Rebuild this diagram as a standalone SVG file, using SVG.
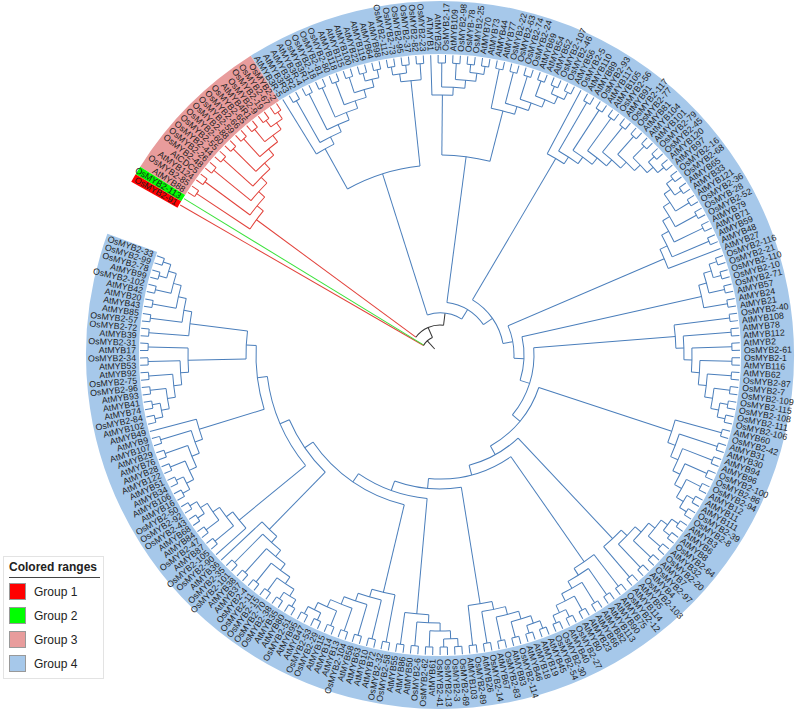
<svg xmlns="http://www.w3.org/2000/svg" width="798" height="714" viewBox="0 0 798 714">
<style>
text{font-family:"Liberation Sans",Arial,sans-serif;}
.lb text{font-size:8.8px;fill:#1e1e1e;dominant-baseline:central;}
.L text{text-anchor:end;}
.lg text{font-size:12px;fill:#222;}
</style>
<defs>
<g id="c"><path d="M292 0H300"/><path d="M292 0H300" transform="rotate(1.42)"/><circle r="292" pathLength="360" stroke-dasharray="1.42 999"/></g>
<g id="L2"><use href="#c"/><use href="#c" transform="rotate(2.84)"/><circle r="284" pathLength="360" stroke-dasharray="2.84 999" transform="rotate(0.71)"/><path d="M284 0H292" transform="rotate(0.71)"/><path d="M284 0H292" transform="rotate(3.55)"/></g>
<g id="L3"><use href="#L2"/><use href="#c" transform="rotate(5.68)"/><circle r="276" pathLength="360" stroke-dasharray="4.26 999" transform="rotate(2.13)"/><path d="M276 0H284" transform="rotate(2.13)"/><path d="M276 0H292" transform="rotate(6.39)"/></g>
<g id="L4"><use href="#L3"/><use href="#c" transform="rotate(8.52)"/><circle r="268" pathLength="360" stroke-dasharray="4.97 999" transform="rotate(4.26)"/><path d="M268 0H276" transform="rotate(4.26)"/><path d="M268 0H292" transform="rotate(9.23)"/></g>
<g id="L5"><use href="#L4"/><use href="#c" transform="rotate(11.36)"/><circle r="260" pathLength="360" stroke-dasharray="5.325 999" transform="rotate(6.745)"/><path d="M260 0H268" transform="rotate(6.745)"/><path d="M260 0H292" transform="rotate(12.07)"/></g>
<g id="L6"><use href="#L5"/><use href="#c" transform="rotate(14.2)"/><circle r="252" pathLength="360" stroke-dasharray="5.5025 999" transform="rotate(9.4075)"/><path d="M252 0H260" transform="rotate(9.4075)"/><path d="M252 0H292" transform="rotate(14.91)"/></g>
<g id="L7"><use href="#L6"/><use href="#c" transform="rotate(17.04)"/><circle r="244" pathLength="360" stroke-dasharray="5.59125 999" transform="rotate(12.15875)"/><path d="M244 0H252" transform="rotate(12.15875)"/><path d="M244 0H292" transform="rotate(17.75)"/></g>
<g id="L8"><use href="#L7"/><use href="#c" transform="rotate(19.88)"/><circle r="236" pathLength="360" stroke-dasharray="5.636 999" transform="rotate(14.954)"/><path d="M236 0H244" transform="rotate(14.954)"/><path d="M236 0H292" transform="rotate(20.59)"/></g>
<g id="L9"><use href="#L8"/><use href="#c" transform="rotate(22.72)"/><circle r="228" pathLength="360" stroke-dasharray="5.658 999" transform="rotate(17.772)"/><path d="M228 0H236" transform="rotate(17.772)"/><path d="M228 0H292" transform="rotate(23.43)"/></g>
<g id="S4"><use href="#L4"/><path d="M260 0H300" transform="rotate(11.36)"/><circle r="260" pathLength="360" stroke-dasharray="4.615 999" transform="rotate(6.745)"/><path d="M260 0H268" transform="rotate(6.745)"/></g>
<g id="S5"><use href="#L5"/><path d="M252 0H300" transform="rotate(14.2)"/><circle r="252" pathLength="360" stroke-dasharray="4.7925 999" transform="rotate(9.4075)"/><path d="M252 0H260" transform="rotate(9.4075)"/></g>
<g id="S6"><use href="#L6"/><path d="M244 0H300" transform="rotate(17.04)"/><circle r="244" pathLength="360" stroke-dasharray="4.88125 999" transform="rotate(12.15875)"/><path d="M244 0H252" transform="rotate(12.15875)"/></g>
<g id="S7"><use href="#L7"/><path d="M236 0H300" transform="rotate(19.88)"/><circle r="236" pathLength="360" stroke-dasharray="4.926 999" transform="rotate(14.954)"/><path d="M236 0H244" transform="rotate(14.954)"/></g>
<g id="S8"><use href="#L8"/><path d="M228 0H300" transform="rotate(22.72)"/><circle r="228" pathLength="360" stroke-dasharray="4.948 999" transform="rotate(17.772)"/><path d="M228 0H236" transform="rotate(17.772)"/></g>
</defs>
<rect width="798" height="714" fill="#fff"/>
<g id="ranges" transform="translate(440 355)" fill="none" stroke-width="53">
<circle r="327.5" pathLength="360" stroke="#a6c8ea" stroke-dasharray="322.32 999" transform="rotate(237.69)"/>
<circle r="327.5" pathLength="360" stroke="#e89c9c" stroke-dasharray="25.56 999" transform="rotate(212.13)"/>
<circle r="327.5" pathLength="360" stroke="#00ff00" stroke-dasharray="1.42 999" transform="rotate(210.71)"/>
<circle r="327.5" pathLength="360" stroke="#ff0000" stroke-dasharray="1.42 999" transform="rotate(209.29)"/>
</g>
<g id="connectors" transform="translate(440 355)" fill="none" stroke-width="1">
<g id="pink-clade" stroke="#e2413a">
<use href="#L9" transform="rotate(236.98) scale(1,-1)"/>
<path d="M30 0H228" transform="rotate(216.38)"/>
<path d="M19 0H300" transform="rotate(210)"/>
</g>
<path d="M19 0H300" stroke="#3be23b" transform="rotate(211.42)"/>
<g id="root" stroke="#333">
<circle r="30" pathLength="360" stroke-dasharray="60.466 999" transform="rotate(216.38)"/>
<path d="M30 0H42" transform="rotate(276.846)"/>
<circle r="19" pathLength="360" stroke-dasharray="36.613 999" transform="rotate(210)"/>
<path d="M19 0H30" transform="rotate(246.613)"/>
<path d="M8 0H19" transform="rotate(228.31)"/>
</g>
<g id="blue-clade" stroke="#4a7ebb">
<use href="#S7" transform="rotate(258.28) scale(1,-1)"/>
<use href="#L3" transform="rotate(259.7)"/>
<use href="#S4" transform="rotate(279.58) scale(1,-1)"/>
<use href="#L6" transform="rotate(296.62) scale(1,-1)"/>
<use href="#S8" transform="rotate(320.76) scale(1,-1)"/>
<use href="#S6" transform="rotate(322.18)"/>
<use href="#L4" transform="rotate(340.64)"/>
<use href="#L8" transform="rotate(373.3) scale(1,-1)"/>
<use href="#L7" transform="rotate(393.18) scale(1,-1)"/>
<use href="#L6" transform="rotate(394.6)"/>
<use href="#L6" transform="rotate(427.26) scale(1,-1)"/>
<use href="#L6" transform="rotate(428.68)"/>
<use href="#L5" transform="rotate(445.72)"/>
<use href="#L7" transform="rotate(478.38) scale(1,-1)"/>
<use href="#S6" transform="rotate(479.8)"/>
<use href="#S4" transform="rotate(509.62) scale(1,-1)"/>
<use href="#S5" transform="rotate(511.04)"/>
<use href="#L6" transform="rotate(526.66)"/>
<use href="#L6" transform="rotate(559.3) scale(1,-1)"/>
<circle r="190" pathLength="360" stroke-dasharray="23.097 999" transform="rotate(240.863)"/><path d="M190 0H236" transform="rotate(240.863)"/><path d="M190 0H276" transform="rotate(263.96)"/>
<circle r="200" pathLength="360" stroke-dasharray="13.934 999" transform="rotate(270.5275)"/><path d="M200 0H260" transform="rotate(270.5275)"/><path d="M200 0H252" transform="rotate(284.46125)"/>
<circle r="42" pathLength="360" stroke-dasharray="48.872 999" transform="rotate(252.41)"/><path d="M42 0H190" transform="rotate(252.41)"/><path d="M42 0H53" transform="rotate(301.282)"/>
<circle r="53" pathLength="360" stroke-dasharray="47.576 999" transform="rotate(277.494)"/><path d="M53 0H200" transform="rotate(277.494)"/><path d="M53 0H64" transform="rotate(325.07)"/>
<circle r="64" pathLength="360" stroke-dasharray="49.1135 999" transform="rotate(300.514)"/><path d="M64 0H228" transform="rotate(300.514)"/><path d="M64 0H74" transform="rotate(349.6275)"/>
<circle r="74" pathLength="360" stroke-dasharray="25.697 999" transform="rotate(336.779)"/><path d="M74 0H244" transform="rotate(336.779)"/><path d="M74 0H84" transform="rotate(362.476)"/>
<circle r="84" pathLength="360" stroke-dasharray="30.182 999" transform="rotate(347.385)"/><path d="M84 0H268" transform="rotate(347.385)"/><path d="M84 0H94" transform="rotate(377.567)"/>
<circle r="94" pathLength="360" stroke-dasharray="44.078 999" transform="rotate(355.528)"/><path d="M94 0H236" transform="rotate(355.528)"/><path d="M94 0H104" transform="rotate(399.606)"/>
<circle r="104" pathLength="360" stroke-dasharray="42.76 999" transform="rotate(378.226)"/><path d="M104 0H244" transform="rotate(378.226)"/><path d="M104 0H114" transform="rotate(420.986)"/>
<circle r="114" pathLength="360" stroke-dasharray="28.4545 999" transform="rotate(406.759)"/><path d="M114 0H252" transform="rotate(406.759)"/><path d="M114 0H124" transform="rotate(435.2135)"/>
<circle r="124" pathLength="360" stroke-dasharray="40.225 999" transform="rotate(415.101)"/><path d="M124 0H252" transform="rotate(415.101)"/><path d="M124 0H134" transform="rotate(455.326)"/>
<circle r="134" pathLength="360" stroke-dasharray="28.97375 999" transform="rotate(440.839)"/><path d="M134 0H252" transform="rotate(440.839)"/><path d="M134 0H144" transform="rotate(469.81275)"/>
<circle r="144" pathLength="360" stroke-dasharray="29.3695 999" transform="rotate(455.128)"/><path d="M144 0H260" transform="rotate(455.128)"/><path d="M144 0H154" transform="rotate(484.4975)"/>
<circle r="154" pathLength="360" stroke-dasharray="42.143 999" transform="rotate(463.426)"/><path d="M154 0H244" transform="rotate(463.426)"/><path d="M154 0H164" transform="rotate(505.569)"/>
<circle r="164" pathLength="360" stroke-dasharray="22.34075 999" transform="rotate(494.399)"/><path d="M164 0H244" transform="rotate(494.399)"/><path d="M164 0H174" transform="rotate(516.73975)"/>
<circle r="174" pathLength="360" stroke-dasharray="32.3445 999" transform="rotate(500.5675)"/><path d="M174 0H260" transform="rotate(500.5675)"/><path d="M174 0H184" transform="rotate(532.912)"/>
<circle r="184" pathLength="360" stroke-dasharray="20.136 999" transform="rotate(522.844)"/><path d="M184 0H252" transform="rotate(522.844)"/><path d="M184 0H194" transform="rotate(542.98)"/>
<circle r="194" pathLength="360" stroke-dasharray="8.322 999" transform="rotate(538.819)"/><path d="M194 0H252" transform="rotate(538.819)"/><path d="M194 0H252" transform="rotate(547.141)"/>
</g>
</g>
<g id="labels-left" class="lb L" transform="translate(440 355)">
<text transform="rotate(30)" x="-304">OsMYB2-91</text>
<text transform="rotate(31.42)" x="-304">OsMYB2-113</text>
<text transform="rotate(32.84)" x="-304">AtMYB88</text>
<text transform="rotate(34.26)" x="-304">OsMYB2-85</text>
<text transform="rotate(35.68)" x="-304">AtMYB124</text>
<text transform="rotate(37.1)" x="-304">AtCDC5</text>
<text transform="rotate(38.52)" x="-304">OsMYB2-48</text>
<text transform="rotate(39.94)" x="-304">OsMYB2-26</text>
<text transform="rotate(41.36)" x="-304">OsMYB2-44</text>
<text transform="rotate(42.78)" x="-304">OsMYB2-55</text>
<text transform="rotate(44.2)" x="-304">OsMYB2-60</text>
<text transform="rotate(45.62)" x="-304">OsMYB2-88</text>
<text transform="rotate(47.04)" x="-304">OsMYB2-59</text>
<text transform="rotate(48.46)" x="-304">OsMYB2-66</text>
<text transform="rotate(49.88)" x="-304">OsMYB2-65</text>
<text transform="rotate(51.3)" x="-304">AtMYB4R1</text>
<text transform="rotate(52.72)" x="-304">OsMYB2-9</text>
<text transform="rotate(54.14)" x="-304">OsMYB2-19</text>
<text transform="rotate(55.56)" x="-304">OsMYB2-67</text>
<text transform="rotate(56.98)" x="-304">OsMYB2-2</text>
<text transform="rotate(58.4)" x="-304">AtMYB3R-5</text>
<text transform="rotate(59.82)" x="-304">AtMYB3R3</text>
<text transform="rotate(61.24)" x="-304">AtMYB3R2</text>
<text transform="rotate(62.66)" x="-304">AtMYB3R-4</text>
<text transform="rotate(64.08)" x="-304">OsMYB3R1</text>
<text transform="rotate(65.5)" x="-304">OsMYB2-18</text>
<text transform="rotate(66.92)" x="-304">OsMYB2-81</text>
<text transform="rotate(68.34)" x="-304">OsMYB2-80</text>
<text transform="rotate(69.76)" x="-304">AtMYB118</text>
<text transform="rotate(71.18)" x="-304">AtMYB115</text>
<text transform="rotate(72.6)" x="-304">AtMYB100</text>
<text transform="rotate(74.02)" x="-304">AtMYB22</text>
<text transform="rotate(75.44)" x="-304">AtMYB119</text>
<text transform="rotate(76.86)" x="-304">AtMYB64</text>
<text transform="rotate(78.28)" x="-304">AtMYB98</text>
<text transform="rotate(79.7)" x="-304">OsMYB2-112</text>
<text transform="rotate(81.12)" x="-304">OsMYB2-73</text>
<text transform="rotate(82.54)" x="-304">OsMYB2-95</text>
<text transform="rotate(83.96)" x="-304">OsMYB2-37</text>
<text transform="rotate(85.38)" x="-304">OsMYB2-82</text>
<text transform="rotate(86.8)" x="-304">OsMYB2-23</text>
<text transform="rotate(88.22)" x="-304">ATMYB1</text>
<text transform="rotate(89.64)" x="-304">AtMYB25</text>
<text transform="rotate(271.4)" x="-304">AtMYB61</text>
<text transform="rotate(272.82)" x="-304">OsMYB2-62</text>
<text transform="rotate(274.24)" x="-304">OsMYB2-6</text>
<text transform="rotate(275.66)" x="-304">AtMYB50</text>
<text transform="rotate(277.08)" x="-304">AtMYB86</text>
<text transform="rotate(278.5)" x="-304">AtMYB55</text>
<text transform="rotate(279.92)" x="-304">OsMYB2-58</text>
<text transform="rotate(281.34)" x="-304">OsMYB2-32</text>
<text transform="rotate(282.76)" x="-304">AtMYB72</text>
<text transform="rotate(284.18)" x="-304">AtMYB10</text>
<text transform="rotate(285.6)" x="-304">AtMYB63</text>
<text transform="rotate(287.02)" x="-304">AtMYB58</text>
<text transform="rotate(288.44)" x="-304">OsMYB2-104</text>
<text transform="rotate(289.86)" x="-304">AtMYB13</text>
<text transform="rotate(291.28)" x="-304">AtMYB14</text>
<text transform="rotate(292.7)" x="-304">AtMYB15</text>
<text transform="rotate(294.12)" x="-304">OsMYB2-29</text>
<text transform="rotate(295.54)" x="-304">OsMYB2-53</text>
<text transform="rotate(296.96)" x="-304">AtMYB47</text>
<text transform="rotate(298.38)" x="-304">AtMYB95</text>
<text transform="rotate(299.8)" x="-304">OsMYB2-51</text>
<text transform="rotate(301.22)" x="-304">AtMYB80</text>
<text transform="rotate(302.64)" x="-304">AtMYB35</text>
<text transform="rotate(304.06)" x="-304">OsMYB2-38</text>
<text transform="rotate(305.48)" x="-304">OsMYB2-70</text>
<text transform="rotate(306.9)" x="-304">OsMYB2-15</text>
<text transform="rotate(308.32)" x="-304">OsMYB2-11</text>
<text transform="rotate(309.74)" x="-304">OsMYB2-4</text>
<text transform="rotate(311.16)" x="-304">AtMYB37</text>
<text transform="rotate(312.58)" x="-304">AtMYB38</text>
<text transform="rotate(314)" x="-304">OsMYB2-101</text>
<text transform="rotate(315.42)" x="-304">OsMYB2-35</text>
<text transform="rotate(316.84)" x="-304">AtMYB36</text>
<text transform="rotate(318.26)" x="-304">OsMYB2-90</text>
<text transform="rotate(319.68)" x="-304">OsMYB2-105</text>
<text transform="rotate(321.1)" x="-304">AtMYB87</text>
<text transform="rotate(322.52)" x="-304">OsMYB2-47</text>
<text transform="rotate(323.94)" x="-304">AtMYB84</text>
<text transform="rotate(325.36)" x="-304">AtMYB68</text>
<text transform="rotate(326.78)" x="-304">OsMYB2-43</text>
<text transform="rotate(328.2)" x="-304">OsMYB2-92</text>
<text transform="rotate(329.62)" x="-304">OsMYB2-50</text>
<text transform="rotate(331.04)" x="-304">AtMYB16</text>
<text transform="rotate(332.46)" x="-304">AtMYB106</text>
<text transform="rotate(333.88)" x="-304">AtMYB34</text>
<text transform="rotate(335.3)" x="-304">AtMYB51</text>
<text transform="rotate(336.72)" x="-304">AtMYB122</text>
<text transform="rotate(338.14)" x="-304">AtMYB28</text>
<text transform="rotate(339.56)" x="-304">AtMYB76</text>
<text transform="rotate(340.98)" x="-304">AtMYB29</text>
<text transform="rotate(342.4)" x="-304">AtMYB107</text>
<text transform="rotate(343.82)" x="-304">AtMYB9</text>
<text transform="rotate(345.24)" x="-304">AtMYB49</text>
<text transform="rotate(346.66)" x="-304">AtMYB102</text>
<text transform="rotate(348.08)" x="-304">OsMYB2-84</text>
<text transform="rotate(349.5)" x="-304">AtMYB74</text>
<text transform="rotate(350.92)" x="-304">AtMYB41</text>
<text transform="rotate(352.34)" x="-304">AtMYB93</text>
<text transform="rotate(353.76)" x="-304">OsMYB2-96</text>
<text transform="rotate(355.18)" x="-304">OsMYB2-75</text>
<text transform="rotate(356.6)" x="-304">AtMYB92</text>
<text transform="rotate(358.02)" x="-304">AtMYB53</text>
<text transform="rotate(359.44)" x="-304">OsMYB2-34</text>
<text transform="rotate(360.86)" x="-304">AtMYB17</text>
<text transform="rotate(362.28)" x="-304">OsMYB2-31</text>
<text transform="rotate(363.7)" x="-304">AtMYB39</text>
<text transform="rotate(365.12)" x="-304">OsMYB2-72</text>
<text transform="rotate(366.54)" x="-304">OsMYB2-57</text>
<text transform="rotate(367.96)" x="-304">AtMYB85</text>
<text transform="rotate(369.38)" x="-304">AtMYB43</text>
<text transform="rotate(370.8)" x="-304">AtMYB20</text>
<text transform="rotate(372.22)" x="-304">AtMYB42</text>
<text transform="rotate(373.64)" x="-304">OsMYB2-102</text>
<text transform="rotate(375.06)" x="-304">AtMYB99</text>
<text transform="rotate(376.48)" x="-304">OsMYB2-78</text>
<text transform="rotate(377.9)" x="-304">OsMYB2-99</text>
<text transform="rotate(379.32)" x="-304">OsMYB2-33</text>
</g>
<g id="labels-right" class="lb" transform="translate(440 355) rotate(180)">
<text transform="rotate(91.06)" x="304">OsMYB2-17</text>
<text transform="rotate(92.48)" x="304">AtMYB109</text>
<text transform="rotate(93.9)" x="304">OsMYB2-98</text>
<text transform="rotate(95.32)" x="304">OsMYB-78</text>
<text transform="rotate(96.74)" x="304">OsMYB2-25</text>
<text transform="rotate(98.16)" x="304">AtMYB70</text>
<text transform="rotate(99.58)" x="304">AtMYB73</text>
<text transform="rotate(101)" x="304">AtMYB44</text>
<text transform="rotate(102.42)" x="304">AtMYB77</text>
<text transform="rotate(103.84)" x="304">OsMYB2-22</text>
<text transform="rotate(105.26)" x="304">OsMYB2-63</text>
<text transform="rotate(106.68)" x="304">OsMYB2-74</text>
<text transform="rotate(108.1)" x="304">OsMYB2-24</text>
<text transform="rotate(109.52)" x="304">AtMYB69</text>
<text transform="rotate(110.94)" x="304">AtMYB54</text>
<text transform="rotate(112.36)" x="304">AtMYB52</text>
<text transform="rotate(113.78)" x="304">OsMYB2-107</text>
<text transform="rotate(115.2)" x="304">OsMYB2-46</text>
<text transform="rotate(116.62)" x="304">AtMYB56</text>
<text transform="rotate(118.04)" x="304">OsMYB2-5</text>
<text transform="rotate(119.46)" x="304">AtMYB110</text>
<text transform="rotate(120.88)" x="304">AtMYB89</text>
<text transform="rotate(122.3)" x="304">OsMYB2-93</text>
<text transform="rotate(123.72)" x="304">AtMYB117</text>
<text transform="rotate(125.14)" x="304">AtMYB105</text>
<text transform="rotate(126.56)" x="304">OsMYB2-56</text>
<text transform="rotate(127.98)" x="304">AtMYB91</text>
<text transform="rotate(129.4)" x="304">OsMYB2-117</text>
<text transform="rotate(130.82)" x="304">OsMYB2-77</text>
<text transform="rotate(132.24)" x="304">AtMYB81</text>
<text transform="rotate(133.66)" x="304">AtMYB104</text>
<text transform="rotate(135.08)" x="304">AtMYB101</text>
<text transform="rotate(136.5)" x="304">OsMYB2-79</text>
<text transform="rotate(137.92)" x="304">OsMYB2-45</text>
<text transform="rotate(139.34)" x="304">AtMYB120</text>
<text transform="rotate(140.76)" x="304">AtMYB97</text>
<text transform="rotate(142.18)" x="304">OsMYB2-16</text>
<text transform="rotate(143.6)" x="304">OsMYB2-68</text>
<text transform="rotate(145.02)" x="304">AtMYB65</text>
<text transform="rotate(146.44)" x="304">AtMYB33</text>
<text transform="rotate(147.86)" x="304">AtMYB121</text>
<text transform="rotate(149.28)" x="304">OsMYB2-36</text>
<text transform="rotate(150.7)" x="304">OsMYB-28</text>
<text transform="rotate(152.12)" x="304">OsMYB2-52</text>
<text transform="rotate(153.54)" x="304">AtMYB79</text>
<text transform="rotate(154.96)" x="304">AtMYB71</text>
<text transform="rotate(156.38)" x="304">AtMYB59</text>
<text transform="rotate(157.8)" x="304">AtMYB48</text>
<text transform="rotate(159.22)" x="304">AtMYB27</text>
<text transform="rotate(160.64)" x="304">OsMYB2-116</text>
<text transform="rotate(162.06)" x="304">OsMYB2-21</text>
<text transform="rotate(163.48)" x="304">OsMYB2-110</text>
<text transform="rotate(164.9)" x="304">OsMYB2-10</text>
<text transform="rotate(166.32)" x="304">OsMYB2-71</text>
<text transform="rotate(167.74)" x="304">AtMYB57</text>
<text transform="rotate(169.16)" x="304">AtMYB24</text>
<text transform="rotate(170.58)" x="304">AtMYB21</text>
<text transform="rotate(172)" x="304">OsMYB2-40</text>
<text transform="rotate(173.42)" x="304">AtMYB108</text>
<text transform="rotate(174.84)" x="304">AtMYB78</text>
<text transform="rotate(176.26)" x="304">AtMYB112</text>
<text transform="rotate(177.68)" x="304">AtMYB2</text>
<text transform="rotate(179.1)" x="304">OsMYB2-61</text>
<text transform="rotate(180.52)" x="304">OsMYB2-1</text>
<text transform="rotate(181.94)" x="304">AtMYB116</text>
<text transform="rotate(183.36)" x="304">AtMYB62</text>
<text transform="rotate(184.78)" x="304">OsMYB2-87</text>
<text transform="rotate(186.2)" x="304">OsMYB2-7</text>
<text transform="rotate(187.62)" x="304">OsMYB2-109</text>
<text transform="rotate(189.04)" x="304">OsMYB2-115</text>
<text transform="rotate(190.46)" x="304">OsMYB2-108</text>
<text transform="rotate(191.88)" x="304">OsMYB2-111</text>
<text transform="rotate(193.3)" x="304">OsMYB2-106</text>
<text transform="rotate(194.72)" x="304">AtMYB60</text>
<text transform="rotate(196.14)" x="304">OsMYB2-42</text>
<text transform="rotate(197.56)" x="304">AtMYB31</text>
<text transform="rotate(198.98)" x="304">AtMYB30</text>
<text transform="rotate(200.4)" x="304">AtMYB94</text>
<text transform="rotate(201.82)" x="304">AtMYB96</text>
<text transform="rotate(203.24)" x="304">OsMYB2-100</text>
<text transform="rotate(204.66)" x="304">OsMYB2-86</text>
<text transform="rotate(206.08)" x="304">OsMYB2-94</text>
<text transform="rotate(207.5)" x="304">AtMYB12</text>
<text transform="rotate(208.92)" x="304">AtMYB11</text>
<text transform="rotate(210.34)" x="304">AtMYB111</text>
<text transform="rotate(211.76)" x="304">OsMYB2-39</text>
<text transform="rotate(213.18)" x="304">OsMYB2-8</text>
<text transform="rotate(214.6)" x="304">AtMYB3</text>
<text transform="rotate(216.02)" x="304">AtMYB6</text>
<text transform="rotate(217.44)" x="304">AtMYB8</text>
<text transform="rotate(218.86)" x="304">OsMYB2-64</text>
<text transform="rotate(220.28)" x="304">AtMYB32</text>
<text transform="rotate(221.7)" x="304">OsMYB2-20</text>
<text transform="rotate(223.12)" x="304">AtMYB7</text>
<text transform="rotate(224.54)" x="304">OsMYB2-97</text>
<text transform="rotate(225.96)" x="304">AtMYB4</text>
<text transform="rotate(227.38)" x="304">OsMYB2-103</text>
<text transform="rotate(228.8)" x="304">AtMYB5</text>
<text transform="rotate(230.22)" x="304">AtMYB114</text>
<text transform="rotate(231.64)" x="304">OsMYB2-12</text>
<text transform="rotate(233.06)" x="304">AtMYB75</text>
<text transform="rotate(234.48)" x="304">AtMYB90</text>
<text transform="rotate(235.9)" x="304">AtMYB113</text>
<text transform="rotate(237.32)" x="304">AtMYB82</text>
<text transform="rotate(238.74)" x="304">AtMYB66</text>
<text transform="rotate(240.16)" x="304">AtMYB23</text>
<text transform="rotate(241.58)" x="304">AtMYB0</text>
<text transform="rotate(243)" x="304">OsMYB2-27</text>
<text transform="rotate(244.42)" x="304">AtMYB40</text>
<text transform="rotate(245.84)" x="304">OsMYB2-30</text>
<text transform="rotate(247.26)" x="304">OsMYB2-54</text>
<text transform="rotate(248.68)" x="304">AtMYB45</text>
<text transform="rotate(250.1)" x="304">AtMYB19</text>
<text transform="rotate(251.52)" x="304">AtMYB18</text>
<text transform="rotate(252.94)" x="304">AtMYB46</text>
<text transform="rotate(254.36)" x="304">OsMYB2-114</text>
<text transform="rotate(255.78)" x="304">AtMYB83</text>
<text transform="rotate(257.2)" x="304">OsMYB2-83</text>
<text transform="rotate(258.62)" x="304">AtMYB67</text>
<text transform="rotate(260.04)" x="304">OsMYB2-14</text>
<text transform="rotate(261.46)" x="304">AtMYB26</text>
<text transform="rotate(262.88)" x="304">OsMYB2-89</text>
<text transform="rotate(264.3)" x="304">AtMYB103</text>
<text transform="rotate(265.72)" x="304">OsMYB2-69</text>
<text transform="rotate(267.14)" x="304">OsMYB2-3</text>
<text transform="rotate(268.56)" x="304">OsMYB2-13</text>
<text transform="rotate(269.98)" x="304">OsMYB2-41</text>
</g>
<g id="legend" class="lg">
<rect x="3.5" y="556.5" width="100" height="122" fill="#fff" stroke="#e3e3e3"/>
<text x="9" y="571" font-weight="bold">Colored ranges</text>
<line x1="9" y1="577.5" x2="100" y2="577.5" stroke="#444"/>
<rect x="9.5" y="583.5" width="16" height="16" fill="#ff0000" stroke="#999"/>
<text x="34" y="596">Group 1</text>
<rect x="9.5" y="607.5" width="16" height="16" fill="#00ff00" stroke="#999"/>
<text x="34" y="620">Group 2</text>
<rect x="9.5" y="631.5" width="16" height="16" fill="#e89c9c" stroke="#999"/>
<text x="34" y="644">Group 3</text>
<rect x="9.5" y="655.5" width="16" height="16" fill="#a6c8ea" stroke="#999"/>
<text x="34" y="668">Group 4</text>
</g>
</svg>
